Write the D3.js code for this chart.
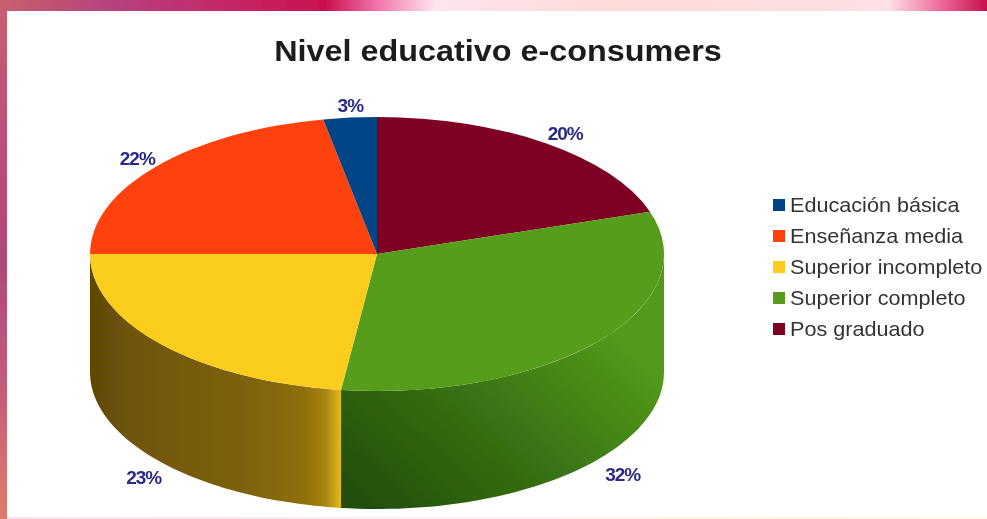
<!DOCTYPE html>
<html>
<head>
<meta charset="utf-8">
<title>Nivel educativo e-consumers</title>
<script src="https://cdn.jsdelivr.net/npm/d3@7"></script>
<style>
  html, body { margin: 0; padding: 0; background: #fff; }
  svg { display: block; }
  text { font-family: "Liberation Sans", Arial, sans-serif; }
</style>
</head>
<body>
<svg id="chart"></svg>
<script>
// Datos
const categories = ["Educación básica", "Enseñanza media", "Superior incompleto", "Superior completo", "Pos graduado"];
const values = [3, 22, 23, 32, 20];
const colors = ["#004586", "#ff420e", "#fbcd1c", "#579d1c", "#7e0021"];
const pieOrder = [4, 3, 2, 1, 0]; // sentido horario desde arriba

const width = 987, height = 519;
const cx = 377, cy = 254, rx = 287, ry = 137, depth = 118;

const svg = d3.select("#chart").attr("width", width).attr("height", height);
const defs = svg.append("defs");

function gradient(id, attrs, stops) {
    const g = defs.append("linearGradient").attr("id", id).attr("gradientUnits", "userSpaceOnUse");
    Object.entries(attrs).forEach(([k, v]) => g.attr(k, v));
    stops.forEach(s => g.append("stop").attr("offset", s[0]).attr("stop-color", s[1]));
}
gradient("topBand", { x1: 0, y1: 0, x2: width, y2: 0 }, [
    [0, "#c8606e"], [0.12, "#b8407e"], [0.22, "#c42a6a"], [0.33, "#cc1050"], [0.38, "#f070a8"],
    [0.44, "#fde4ee"], [0.62, "#fddcd8"], [0.9, "#fde0e4"], [0.95, "#f070a0"], [1, "#c8104e"]
]);
gradient("leftBand", { x1: 0, y1: 0, x2: 0, y2: height }, [
    [0, "#c8606e"], [0.25, "#bc5078"], [0.5, "#b04878"], [0.72, "#c05a7a"], [1, "#e07c68"]
]);
gradient("bottomBand", { x1: 0, y1: 0, x2: width, y2: 0 }, [
    [0, "#fde0f0"], [0.5, "#fff0f4"], [0.75, "#fff4dc"], [1, "#fff8e4"]
]);
gradient("wall2", { x1: 90, y1: 0, x2: 343, y2: 0 }, [
    [0, "#5e4606"], [0.15, "#6f5508"], [0.6, "#7d610b"], [0.85, "#8f700e"], [0.93, "#a98612"], [1, "#eebf1c"]
]);
gradient("wall3", { x1: 380, y1: 520, x2: 580, y2: 300 }, [
    [0, "#234f0b"], [0.5, "#377212"], [1, "#539a1b"]
]);

const soft = defs.append("filter").attr("id", "soft")
    .attr("x", 0).attr("y", 0).attr("width", 1).attr("height", 1);
soft.append("feGaussianBlur").attr("stdDeviation", 0.7);

const root = svg.append("g").attr("filter", "url(#soft)");

// Fondo de la diapositiva
root.append("rect").attr("width", width).attr("height", height).attr("fill", "#fff");
root.append("rect").attr("width", width).attr("height", 11).attr("fill", "url(#topBand)");
root.append("rect").attr("width", 7).attr("height", height).attr("fill", "url(#leftBand)");
root.append("rect").attr("x", 7).attr("y", 517).attr("width", width - 7).attr("height", 2).attr("fill", "url(#bottomBand)");

// Porciones
const arcs = d3.pie().sort(null).value(i => values[i])(pieOrder);
const px = a => cx + rx * Math.sin(a);
const py = a => cy - ry * Math.cos(a);

const wallLine = d3.line().x(d => d[0]).y(d => d[1]);
function wallPath(a0, a1) {
    const from = Math.max(a0, Math.PI / 2), to = Math.min(a1, Math.PI * 1.5);
    if (to <= from) return null;
    const angles = d3.range(0, 61).map(k => from + (to - from) * k / 60);
    const upper = angles.map(a => [px(a), py(a)]);
    const lower = angles.slice().reverse().map(a => [px(a), py(a) + depth]);
    return wallLine(upper.concat(lower)) + "Z";
}

const wallFill = { 2: "url(#wall2)", 3: "url(#wall3)" };
root.append("g").selectAll("path")
    .data(arcs.filter(d => wallPath(d.startAngle, d.endAngle)))
    .enter().append("path")
    .attr("d", d => wallPath(d.startAngle, d.endAngle))
    .attr("fill", d => wallFill[d.data] || colors[d.data]);

const arc = d3.arc().innerRadius(0).outerRadius(rx);
root.append("g")
    .attr("transform", `translate(${cx},${cy}) scale(1,${ry / rx})`)
    .selectAll("path")
    .data(arcs)
    .enter().append("path")
    .attr("d", arc)
    .attr("fill", d => colors[d.data]);

// Etiquetas de porcentaje
const labelRx = 315, labelRy = 150;
root.append("g").selectAll("text")
    .data(arcs)
    .enter().append("text")
    .attr("x", d => cx + 3 + labelRx * Math.sin((d.startAngle + d.endAngle) / 2))
    .attr("y", d => {
        const mid = (d.startAngle + d.endAngle) / 2;
        return cy - labelRy * Math.cos(mid) + (Math.cos(mid) < 0 ? depth + 6 : 0) + 7;
    })
    .attr("text-anchor", "middle")
    .attr("font-size", 19)
    .attr("font-weight", "bold")
    .attr("letter-spacing", -1)
    .attr("fill", "#2a2a85")
    .text(d => values[d.data] + "%");

// Titulo (las letras del original estan algo estiradas)
root.append("text")
    .attr("transform", "translate(498,61) scale(1.078,1)")
    .attr("text-anchor", "middle")
    .attr("font-size", 30)
    .attr("font-weight", "bold")
    .attr("fill", "#1a1a1a")
    .text("Nivel educativo e-consumers");

// Leyenda
const legend = root.append("g").selectAll("g")
    .data(categories)
    .enter().append("g")
    .attr("transform", (d, i) => `translate(773,${205 + i * 31})`);
legend.append("rect")
    .attr("y", -6).attr("width", 12).attr("height", 12)
    .attr("fill", (d, i) => colors[i]);
legend.append("text")
    .attr("transform", "translate(17,7) scale(1.055,1)")
    .attr("font-size", 20.5)
    .attr("fill", "#333")
    .text(d => d);
</script>
</body>
</html>
